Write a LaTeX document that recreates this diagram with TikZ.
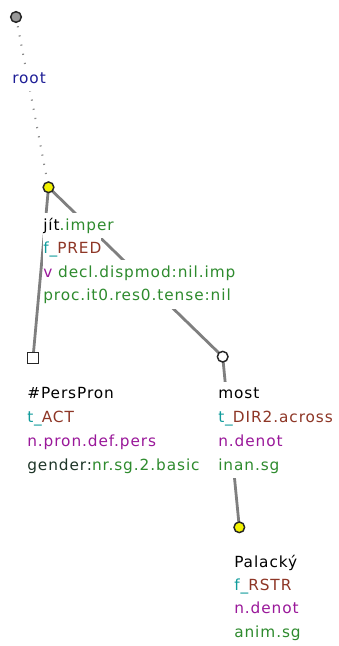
\documentclass[tikz,border=0pt]{standalone}
\usepackage{fontspec}
\setmainfont{DejaVu Sans}[LetterSpace=6]
\definecolor{tgreen}{HTML}{2E8B2E}
\definecolor{tteal}{HTML}{119C9C}
\definecolor{tbrown}{HTML}{8E3626}
\definecolor{tpurple}{HTML}{9A189A}
\definecolor{tnavy}{HTML}{1E1E96}
\definecolor{tdark}{HTML}{1E3528}
\definecolor{tyellow}{HTML}{F2F200}
\definecolor{tedge}{HTML}{7F7F7F}
\pgfdeclarelayer{bg}
\pgfsetlayers{bg,main}
\begin{document}
\begin{tikzpicture}[x=0.75pt,y=-0.75pt,
  lbl/.style={anchor=base west, inner sep=0pt, fill=white, text height=12.5pt, text depth=6pt, font=\fontsize{11.5pt}{14pt}\selectfont},
  circ/.style={circle, draw=black!85, line width=1.1pt, minimum size=8pt, inner sep=0pt},
  sq/.style={rectangle, draw=black!85, fill=white, line width=1.1pt, minimum size=8pt, inner sep=0pt},
  edgeline/.style={draw=tedge, line width=2.1pt},
  rootedge/.style={draw=black!45, line width=1.5pt, dash pattern=on 0.9pt off 6.1pt},
]
\useasboundingbox (0,0) rectangle (339,646);

% tree nodes
\node[circ, fill=black!40] (root) at (16,17) {};
\node[circ, fill=tyellow] (jit) at (48.5,187.3) {};
\node[sq] (pers) at (33,358) {};
\node[circ, fill=white] (most) at (222.7,356.7) {};
\node[circ, fill=tyellow] (pal) at (239.3,527.3) {};

% labels
\node[lbl, text=tnavy] (rootL) at (12,83) {root};

\node[lbl] (jit1) at (43,230) {jít\textcolor{tgreen}{.imper}};
\node[lbl] (jit2) at (43,253.5) {\textcolor{tteal}{f\_}\textcolor{tbrown}{PRED}};
\node[lbl] (jit3) at (43,277) {\textcolor{tpurple}{v} \textcolor{tgreen}{decl.dispmod:nil.imp}};
\node[lbl] (jit4) at (43,300.5) {\textcolor{tgreen}{proc.it0.res0.tense:nil}};

\node[lbl] (pers1) at (27,398.5) {\#PersPron};
\node[lbl] (pers2) at (27,422) {\textcolor{tteal}{t\_}\textcolor{tbrown}{ACT}};
\node[lbl] (pers3) at (27,446) {\textcolor{tpurple}{n.pron.def.pers}};
\node[lbl] (pers4) at (27,470) {\textcolor{tdark}{gender:}\textcolor{tgreen}{nr.sg.2.basic}};

\node[lbl] (most1) at (218,398.5) {most};
\node[lbl] (most2) at (218,422) {\textcolor{tteal}{t\_}\textcolor{tbrown}{DIR2.across}};
\node[lbl] (most3) at (218,446) {\textcolor{tpurple}{n.denot}};
\node[lbl] (most4) at (218,470) {\textcolor{tgreen}{inan.sg}};

\node[lbl] (pal1) at (234,567) {Palacký};
\node[lbl] (pal2) at (234,590.3) {\textcolor{tteal}{f\_}\textcolor{tbrown}{RSTR}};
\node[lbl] (pal3) at (234,613.6) {\textcolor{tpurple}{n.denot}};
\node[lbl] (pal4) at (234,637) {\textcolor{tgreen}{anim.sg}};

% edges
\begin{pgfonlayer}{bg}
\draw[rootedge] (root.center) -- (jit.center);
\draw[edgeline] (jit.center) -- (pers.center);
\draw[edgeline] (jit.center) -- (most.center);
\draw[edgeline] (most.center) -- (pal.center);
\end{pgfonlayer}
\end{tikzpicture}
\end{document}
